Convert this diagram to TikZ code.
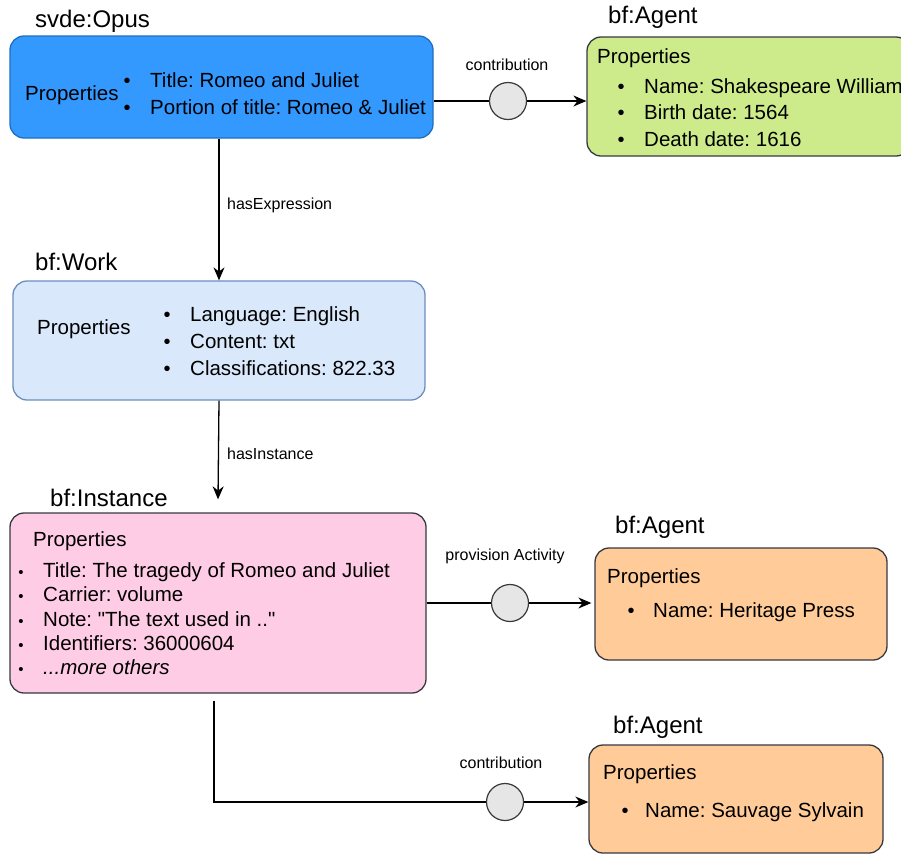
\documentclass[tikz,border=0pt]{standalone}
\usepackage{fontspec}
\setmainfont{Liberation Sans}
\usetikzlibrary{arrows.meta,calc}
\definecolor{opusfill}{HTML}{3399FF}
\definecolor{opusdraw}{HTML}{1F6FBF}
\definecolor{workfill}{HTML}{DAE8FC}
\definecolor{workdraw}{HTML}{6C8EBF}
\definecolor{greenfill}{HTML}{CDEB8B}
\definecolor{pinkfill}{HTML}{FFCCE6}
\definecolor{orangefill}{HTML}{FFCC99}
\definecolor{darkdraw}{HTML}{36393D}
\definecolor{dotfill}{HTML}{E6E6E6}
\frenchspacing
\begin{document}
\begin{tikzpicture}[x=1pt,y=-1pt,
  box/.style={draw=darkdraw, rounded corners=14pt, line width=1.3pt, inner sep=0},
  lbl/.style={font=\fontsize{24}{28}\selectfont, anchor=base west, inner sep=0},
  txt/.style={font=\fontsize{20.5}{24}\selectfont, anchor=base west, inner sep=0},
  bul/.style={font=\fontsize{20}{24}\selectfont, anchor=base, inner sep=0},
  sbul/.style={font=\fontsize{15}{18}\selectfont, anchor=base, inner sep=0},
  small/.style={font=\fontsize{16}{19}\selectfont, inner sep=0},
  dot/.style={circle, draw=darkdraw, fill=dotfill, minimum size=37pt, inner sep=0, line width=1.2pt},
  conn/.style={line width=1.3pt},
  arr/.style={conn, -{Stealth[length=13pt,width=11pt]}}]
\useasboundingbox (0,0) rectangle (901,855);

% boxes
\node[box, draw=opusdraw, fill=opusfill, minimum width=423pt, minimum height=102pt] (opus) at (221.5,87) {};
\node[box, fill=greenfill, minimum width=323pt, minimum height=119pt] (ag1) at (748.5,96.5) {};
\node[box, draw=workdraw, fill=workfill, minimum width=412pt, minimum height=119pt] (work) at (219,340.5) {};
\node[box, fill=pinkfill, minimum width=416pt, minimum height=180pt] (inst) at (218,603) {};
\node[box, fill=orangefill, minimum width=292pt, minimum height=112pt] (ag2) at (741,604) {};
\node[box, fill=orangefill, minimum width=294pt, minimum height=108pt] (ag3) at (736,799) {};

% titles
\node[lbl] (topus) at (35,27) {svde:Opus};
\node[lbl] (tag1) at (608,23) {bf:Agent};
\node[lbl] (twork) at (35,270) {bf:Work};
\node[lbl] (tinst) at (50,506) {bf:Instance};
\node[lbl] (tag2) at (615,533) {bf:Agent};
\node[lbl] (tag3) at (613,733) {bf:Agent};

% opus content
\node[txt] (op) at (25,100) {Properties};
\node[bul] (ob1) at (127,87) {\textbullet};
\node[bul] (ob2) at (127,114) {\textbullet};
\node[txt] (oi1) at (150,87) {Title: Romeo and Juliet};
\node[txt] (oi2) at (150,114) {Portion of title: Romeo \& Juliet};

% agent 1 content
\node[txt] (a1p) at (597,63) {Properties};
\node[bul] (a1b1) at (621,93) {\textbullet};
\node[bul] (a1b2) at (621,119.5) {\textbullet};
\node[bul] (a1b3) at (621,146) {\textbullet};
\node[txt] (a1i1) at (644,93) {Name: Shakespeare William};
\node[txt] (a1i2) at (644,119.5) {Birth date: 1564};
\node[txt] (a1i3) at (644,146) {Death date: 1616};

% work content
\node[txt] (wp) at (37,334) {Properties};
\node[bul] (wb1) at (167,321) {\textbullet};
\node[bul] (wb2) at (167,348) {\textbullet};
\node[bul] (wb3) at (167,375) {\textbullet};
\node[txt] (wi1) at (190,321) {Language: English};
\node[txt] (wi2) at (190,348) {Content: txt};
\node[txt] (wi3) at (190,375) {Classifications: 822.33};

% instance content
\node[txt] (ip) at (33,546) {Properties};
\node[sbul] (ib1) at (21,577) {\textbullet};
\node[sbul] (ib2) at (21,601) {\textbullet};
\node[sbul] (ib3) at (21,626) {\textbullet};
\node[sbul] (ib4) at (21,650) {\textbullet};
\node[sbul] (ib5) at (21,674) {\textbullet};
\node[txt] (ii1) at (43,577) {Title: The tragedy of Romeo and Juliet};
\node[txt] (ii2) at (43,601) {Carrier: volume};
\node[txt] (ii3) at (43,626) {Note: \textquotedbl The text used in ..\textquotedbl};
\node[txt] (ii4) at (43,650) {Identifiers: 36000604};
\node[txt] (ii5) at (43,674) {\itshape ...more others};

% agent 2 content
\node[txt] (a2p) at (607,583) {Properties};
\node[bul] (a2b1) at (631,617) {\textbullet};
\node[txt] (a2i1) at (653,617) {Name: Heritage Press};

% agent 3 content
\node[txt] (a3p) at (603,779) {Properties};
\node[bul] (a3b1) at (625,817) {\textbullet};
\node[txt] (a3i1) at (645,817) {Name: Sauvage Sylvain};

% connectors
\node[dot] (c1) at (508,101) {};
\draw[conn] (opus.east |- c1) -- (c1);
\draw[arr] (c1) -- (c1 -| ag1.west);
\node[small] (l1) at (507,65) {contribution};

\draw[arr] (work.north |- opus.south) -- (work.north);
\node[small, anchor=west] (l2) at (227,205) {hasExpression};

\coordinate (instin) at ($(inst.north)+(0,-13)$);
\draw[arr] (work.south) -- (instin);
\node[small, anchor=west] (l3) at (227,454) {hasInstance};

\node[dot] (c2) at (510,603) {};
\draw[conn] (inst.east |- c2) -- (c2);
\draw[arr] (c2) -- ($(c2 -| ag2.west)+(-3,0)$);
\node[small] (l4) at (505,556) {provision Activity};

\node[dot] (c3) at (505,802) {};
\coordinate (instout) at ($(inst.south)+(-4,7)$);
\draw[conn] (instout) |- (c3);
\draw[arr] (c3) -- (c3 -| ag3.west);
\node[small] (l5) at (501,763) {contribution};
\end{tikzpicture}
\end{document}
